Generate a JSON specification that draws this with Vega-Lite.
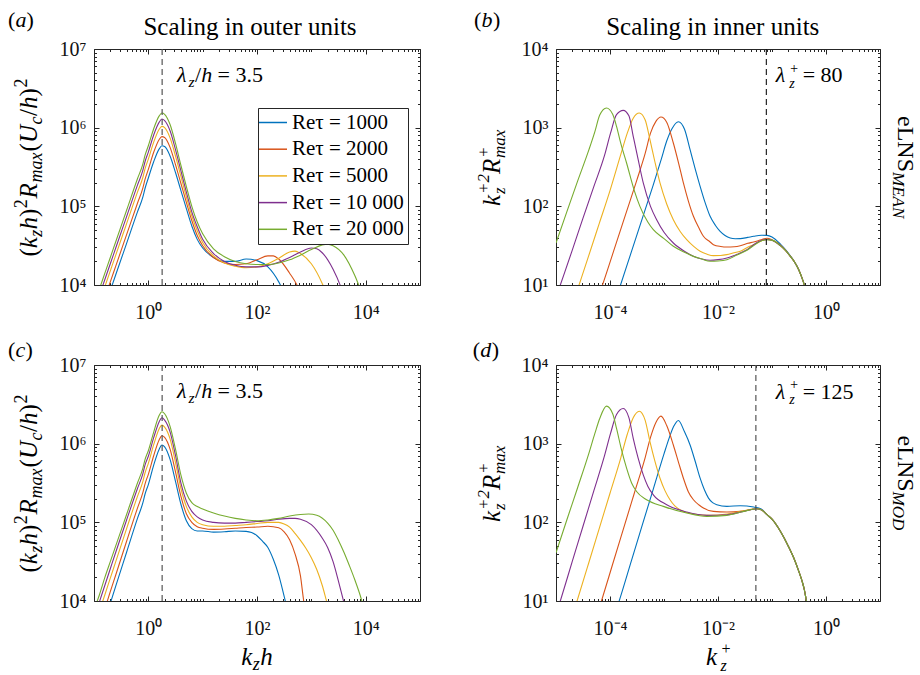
{
"$schema": "https://vega.github.io/schema/vega-lite/v6.json",
"padding": {"left": 7, "top": 8, "right": 2, "bottom": 2},
"background": "white",
"config": {
  "font": "Liberation Serif",
  "view": {"stroke": "#262626", "strokeWidth": 1},
  "axis": {"domain": false, "grid": false, "tickColor": "#262626", "tickWidth": 1, "labelFont": "Liberation Serif", "labelFontSize": 20, "labelColor": "#111111", "labelOverlap": false, "labelFlush": false, "labelBound": false},
  "legend": {"labelFont": "Liberation Serif"},
  "text": {"font": "Liberation Serif", "align": "left", "baseline": "alphabetic", "color": "#000000"}
},
"columns": 2,
"spacing": {"row": 80, "column": 136},
"bounds": "flush",
"resolve": {"scale": {"color": "independent"}},
"datasets": {
"a": [
{"Re":"1000","k":0.1995,"E":8511},{"Re":"1000","k":0.2512,"E":13490},{"Re":"1000","k":0.3981,"E":33880},{"Re":"1000","k":0.631,"E":85110},{"Re":"1000","k":0.7943,"E":131800},{"Re":"1000","k":0.871,"E":169800},{"Re":"1000","k":1,"E":229100},{"Re":"1000","k":1.259,"E":371500},{"Re":"1000","k":1.585,"E":537000},{"Re":"1000","k":1.778,"E":588800},{"Re":"1000","k":1.995,"E":575400},{"Re":"1000","k":2.512,"E":436500},{"Re":"1000","k":3.162,"E":269200},{"Re":"1000","k":3.981,"E":158500},{"Re":"1000","k":5.012,"E":93330},{"Re":"1000","k":6.31,"E":56230},{"Re":"1000","k":7.943,"E":38020},{"Re":"1000","k":10,"E":29510},{"Re":"1000","k":15.85,"E":22390},{"Re":"1000","k":25.12,"E":19950},{"Re":"1000","k":39.81,"E":19950},{"Re":"1000","k":63.1,"E":21380},{"Re":"1000","k":100,"E":20420},{"Re":"1000","k":158.5,"E":16980},{"Re":"1000","k":251.2,"E":10960},{"Re":"1000","k":316.2,"E":7943},
{"Re":"2000","k":0.1585,"E":6918},{"Re":"2000","k":0.1995,"E":10960},{"Re":"2000","k":0.2512,"E":17380},{"Re":"2000","k":0.3981,"E":43650},{"Re":"2000","k":0.631,"E":109600},{"Re":"2000","k":0.7943,"E":171800},{"Re":"2000","k":0.871,"E":221300},{"Re":"2000","k":1,"E":295100},{"Re":"2000","k":1.259,"E":489800},{"Re":"2000","k":1.585,"E":707900},{"Re":"2000","k":1.778,"E":769100},{"Re":"2000","k":1.995,"E":749900},{"Re":"2000","k":2.512,"E":562300},{"Re":"2000","k":3.162,"E":338800},{"Re":"2000","k":3.981,"E":195000},{"Re":"2000","k":5.012,"E":112200},{"Re":"2000","k":6.31,"E":66070},{"Re":"2000","k":7.943,"E":42660},{"Re":"2000","k":10,"E":31620},{"Re":"2000","k":15.85,"E":22390},{"Re":"2000","k":25.12,"E":19050},{"Re":"2000","k":39.81,"E":18200},{"Re":"2000","k":63.1,"E":18620},{"Re":"2000","k":100,"E":20890},{"Re":"2000","k":158.5,"E":23440},{"Re":"2000","k":199.5,"E":23440},{"Re":"2000","k":251.2,"E":21380},{"Re":"2000","k":398.1,"E":14130},{"Re":"2000","k":562.3,"E":9550},{"Re":"2000","k":631,"E":7943},
{"Re":"5000","k":0.1585,"E":9550},{"Re":"5000","k":0.1995,"E":15140},{"Re":"5000","k":0.2512,"E":23990},{"Re":"5000","k":0.3981,"E":60260},{"Re":"5000","k":0.631,"E":151400},{"Re":"5000","k":0.7943,"E":234400},{"Re":"5000","k":0.871,"E":302000},{"Re":"5000","k":1,"E":398100},{"Re":"5000","k":1.259,"E":660700},{"Re":"5000","k":1.585,"E":955000},{"Re":"5000","k":1.778,"E":1040000},{"Re":"5000","k":1.995,"E":1000000},{"Re":"5000","k":2.512,"E":741300},{"Re":"5000","k":3.162,"E":436500},{"Re":"5000","k":3.981,"E":239900},{"Re":"5000","k":5.012,"E":131800},{"Re":"5000","k":6.31,"E":75860},{"Re":"5000","k":7.943,"E":48980},{"Re":"5000","k":10,"E":34670},{"Re":"5000","k":15.85,"E":23440},{"Re":"5000","k":25.12,"E":19050},{"Re":"5000","k":39.81,"E":17380},{"Re":"5000","k":63.1,"E":16600},{"Re":"5000","k":100,"E":16980},{"Re":"5000","k":158.5,"E":18620},{"Re":"5000","k":251.2,"E":21880},{"Re":"5000","k":398.1,"E":26300},{"Re":"5000","k":501.2,"E":26920},{"Re":"5000","k":631,"E":25120},{"Re":"5000","k":1000,"E":18620},{"Re":"5000","k":1585,"E":10470},{"Re":"5000","k":1995,"E":7079},
{"Re":"10000","k":0.1259,"E":7413},{"Re":"10000","k":0.1585,"E":11750},{"Re":"10000","k":0.1995,"E":18620},{"Re":"10000","k":0.2512,"E":29510},{"Re":"10000","k":0.3981,"E":74130},{"Re":"10000","k":0.631,"E":186200},{"Re":"10000","k":0.7943,"E":288400},{"Re":"10000","k":0.871,"E":371500},{"Re":"10000","k":1,"E":489800},{"Re":"10000","k":1.259,"E":812800},{"Re":"10000","k":1.585,"E":1175000},{"Re":"10000","k":1.778,"E":1288000},{"Re":"10000","k":1.995,"E":1230000},{"Re":"10000","k":2.512,"E":912000},{"Re":"10000","k":3.162,"E":524800},{"Re":"10000","k":3.981,"E":281800},{"Re":"10000","k":5.012,"E":151400},{"Re":"10000","k":6.31,"E":85110},{"Re":"10000","k":7.943,"E":54950},{"Re":"10000","k":10,"E":38020},{"Re":"10000","k":15.85,"E":25120},{"Re":"10000","k":25.12,"E":19950},{"Re":"10000","k":39.81,"E":17780},{"Re":"10000","k":63.1,"E":16980},{"Re":"10000","k":100,"E":16980},{"Re":"10000","k":158.5,"E":17780},{"Re":"10000","k":251.2,"E":19500},{"Re":"10000","k":398.1,"E":22390},{"Re":"10000","k":631,"E":26300},{"Re":"10000","k":1000,"E":29510},{"Re":"10000","k":1259,"E":28840},{"Re":"10000","k":1585,"E":25700},{"Re":"10000","k":2512,"E":15850},{"Re":"10000","k":3548,"E":9120},{"Re":"10000","k":3981,"E":7079},
{"Re":"20000","k":0.1259,"E":8913},{"Re":"20000","k":0.1585,"E":14130},{"Re":"20000","k":0.1995,"E":22390},{"Re":"20000","k":0.2512,"E":35480},{"Re":"20000","k":0.3981,"E":89130},{"Re":"20000","k":0.631,"E":223900},{"Re":"20000","k":0.7943,"E":346700},{"Re":"20000","k":0.871,"E":446700},{"Re":"20000","k":1,"E":588800},{"Re":"20000","k":1.259,"E":977200},{"Re":"20000","k":1.585,"E":1413000},{"Re":"20000","k":1.778,"E":1535000},{"Re":"20000","k":1.995,"E":1479000},{"Re":"20000","k":2.512,"E":1096000},{"Re":"20000","k":3.162,"E":631000},{"Re":"20000","k":3.981,"E":331100},{"Re":"20000","k":5.012,"E":177800},{"Re":"20000","k":6.31,"E":100000},{"Re":"20000","k":7.943,"E":63100},{"Re":"20000","k":10,"E":44670},{"Re":"20000","k":15.85,"E":28840},{"Re":"20000","k":25.12,"E":22910},{"Re":"20000","k":39.81,"E":19950},{"Re":"20000","k":63.1,"E":18620},{"Re":"20000","k":100,"E":18200},{"Re":"20000","k":158.5,"E":18200},{"Re":"20000","k":251.2,"E":19050},{"Re":"20000","k":398.1,"E":20890},{"Re":"20000","k":631,"E":23990},{"Re":"20000","k":1000,"E":28180},{"Re":"20000","k":1585,"E":32360},{"Re":"20000","k":1995,"E":33110},{"Re":"20000","k":2512,"E":31620},{"Re":"20000","k":3981,"E":23990},{"Re":"20000","k":6310,"E":13180},{"Re":"20000","k":7943,"E":8913}
],
"b": [
{"Re":"1000","k":0.0001259,"E":6.31},{"Re":"1000","k":0.0001567,"E":10},{"Re":"1000","k":0.0002512,"E":26.92},{"Re":"1000","k":0.0003981,"E":70.79},{"Re":"1000","k":0.000631,"E":186.2},{"Re":"1000","k":0.0008913,"E":398.1},{"Re":"1000","k":0.001122,"E":676.1},{"Re":"1000","k":0.001413,"E":977.2},{"Re":"1000","k":0.001845,"E":1191},{"Re":"1000","k":0.002399,"E":955},{"Re":"1000","k":0.003041,"E":524.8},{"Re":"1000","k":0.003802,"E":295.1},{"Re":"1000","k":0.004667,"E":179.5},{"Re":"1000","k":0.005754,"E":112.2},{"Re":"1000","k":0.007145,"E":74.6},{"Re":"1000","k":0.008913,"E":57.54},{"Re":"1000","k":0.01096,"E":48.08},{"Re":"1000","k":0.01349,"E":42.66},{"Re":"1000","k":0.01682,"E":39.54},{"Re":"1000","k":0.02089,"E":38.64},{"Re":"1000","k":0.02582,"E":38.82},{"Re":"1000","k":0.03548,"E":40.27},{"Re":"1000","k":0.04571,"E":41.59},{"Re":"1000","k":0.0631,"E":42.85},{"Re":"1000","k":0.08072,"E":42.76},{"Re":"1000","k":0.1,"E":40.74},{"Re":"1000","k":0.1429,"E":33.11},{"Re":"1000","k":0.1778,"E":28.18},{"Re":"1000","k":0.2188,"E":23.44},{"Re":"1000","k":0.263,"E":19.5},{"Re":"1000","k":0.3126,"E":15.67},{"Re":"1000","k":0.3548,"E":12.59},{"Re":"1000","k":0.3981,"E":10},{"Re":"1000","k":0.4467,"E":7.586},
{"Re":"2000","k":0.0000631,"E":7.586},{"Re":"2000","k":0.00007261,"E":10},{"Re":"2000","k":0.0001259,"E":31.62},{"Re":"2000","k":0.0001995,"E":83.18},{"Re":"2000","k":0.0003162,"E":218.8},{"Re":"2000","k":0.0004467,"E":467.7},{"Re":"2000","k":0.0005623,"E":851.1},{"Re":"2000","k":0.0007079,"E":1202},{"Re":"2000","k":0.000879,"E":1368},{"Re":"2000","k":0.001122,"E":1175},{"Re":"2000","k":0.001489,"E":638.3},{"Re":"2000","k":0.001862,"E":354.8},{"Re":"2000","k":0.002286,"E":198.2},{"Re":"2000","k":0.002818,"E":117.5},{"Re":"2000","k":0.003508,"E":74.65},{"Re":"2000","k":0.004467,"E":52.48},{"Re":"2000","k":0.00537,"E":41.59},{"Re":"2000","k":0.007079,"E":35.48},{"Re":"2000","k":0.008241,"E":32.58},{"Re":"2000","k":0.01122,"E":30.9},{"Re":"2000","k":0.01459,"E":30.41},{"Re":"2000","k":0.01995,"E":30.69},{"Re":"2000","k":0.02582,"E":31.62},{"Re":"2000","k":0.03548,"E":33.88},{"Re":"2000","k":0.04571,"E":35.24},{"Re":"2000","k":0.0631,"E":37.58},{"Re":"2000","k":0.08072,"E":39.36},{"Re":"2000","k":0.1,"E":37.58},{"Re":"2000","k":0.1429,"E":31.99},{"Re":"2000","k":0.1778,"E":27.54},{"Re":"2000","k":0.2188,"E":23.12},{"Re":"2000","k":0.263,"E":19.5},{"Re":"2000","k":0.3126,"E":15.67},{"Re":"2000","k":0.3548,"E":12.59},{"Re":"2000","k":0.3981,"E":10},{"Re":"2000","k":0.4467,"E":7.586},
{"Re":"5000","k":0.00002239,"E":6.92},{"Re":"5000","k":0.00002673,"E":10},{"Re":"5000","k":0.00003981,"E":22.91},{"Re":"5000","k":0.0000631,"E":60.26},{"Re":"5000","k":0.0001,"E":158.5},{"Re":"5000","k":0.0001585,"E":457.1},{"Re":"5000","k":0.0002089,"E":851.1},{"Re":"5000","k":0.0002692,"E":1318},{"Re":"5000","k":0.0003483,"E":1535},{"Re":"5000","k":0.0004467,"E":1259},{"Re":"5000","k":0.0005495,"E":703.1},{"Re":"5000","k":0.0006761,"E":371.5},{"Re":"5000","k":0.0008433,"E":198.2},{"Re":"5000","k":0.001122,"E":107.2},{"Re":"5000","k":0.001489,"E":67.61},{"Re":"5000","k":0.001995,"E":47.86},{"Re":"5000","k":0.002636,"E":37.67},{"Re":"5000","k":0.003548,"E":30.9},{"Re":"5000","k":0.004667,"E":26.79},{"Re":"5000","k":0.00631,"E":24.55},{"Re":"5000","k":0.008241,"E":23.6},{"Re":"5000","k":0.01122,"E":23.71},{"Re":"5000","k":0.01459,"E":24.32},{"Re":"5000","k":0.01995,"E":25.7},{"Re":"5000","k":0.02582,"E":26.79},{"Re":"5000","k":0.03548,"E":30.2},{"Re":"5000","k":0.04571,"E":32.58},{"Re":"5000","k":0.0631,"E":36.31},{"Re":"5000","k":0.08072,"E":38.02},{"Re":"5000","k":0.1,"E":37.15},{"Re":"5000","k":0.1429,"E":31.62},{"Re":"5000","k":0.1778,"E":27.54},{"Re":"5000","k":0.2188,"E":23.12},{"Re":"5000","k":0.263,"E":19.5},{"Re":"5000","k":0.3126,"E":15.67},{"Re":"5000","k":0.3548,"E":12.59},{"Re":"5000","k":0.3981,"E":10},{"Re":"5000","k":0.4467,"E":7.586},
{"Re":"10000","k":0.00001,"E":6.918},{"Re":"10000","k":0.00001202,"E":10},{"Re":"10000","k":0.00001995,"E":27.54},{"Re":"10000","k":0.00003162,"E":70.79},{"Re":"10000","k":0.00005012,"E":177.8},{"Re":"10000","k":0.00007943,"E":446.7},{"Re":"10000","k":0.0001023,"E":851.1},{"Re":"10000","k":0.0001321,"E":1462},{"Re":"10000","k":0.0001758,"E":1660},{"Re":"10000","k":0.0002239,"E":1413},{"Re":"10000","k":0.0002692,"E":776.2},{"Re":"10000","k":0.0003311,"E":398.1},{"Re":"10000","k":0.000413,"E":198.2},{"Re":"10000","k":0.0005623,"E":100},{"Re":"10000","k":0.0007311,"E":67.61},{"Re":"10000","k":0.001,"E":46.77},{"Re":"10000","k":0.001489,"E":34.2},{"Re":"10000","k":0.002512,"E":26.3},{"Re":"10000","k":0.003508,"E":23.12},{"Re":"10000","k":0.005012,"E":21.38},{"Re":"10000","k":0.007145,"E":20.61},{"Re":"10000","k":0.01,"E":20.99},{"Re":"10000","k":0.01459,"E":22.03},{"Re":"10000","k":0.02239,"E":24.55},{"Re":"10000","k":0.03436,"E":28.12},{"Re":"10000","k":0.05012,"E":33.88},{"Re":"10000","k":0.0631,"E":36.73},{"Re":"10000","k":0.08072,"E":38.02},{"Re":"10000","k":0.1,"E":37.15},{"Re":"10000","k":0.1429,"E":31.62},{"Re":"10000","k":0.1778,"E":27.54},{"Re":"10000","k":0.2188,"E":23.12},{"Re":"10000","k":0.263,"E":19.5},{"Re":"10000","k":0.3126,"E":15.67},{"Re":"10000","k":0.3548,"E":12.59},{"Re":"10000","k":0.3981,"E":10},{"Re":"10000","k":0.4467,"E":7.586},
{"Re":"20000","k":0.00001,"E":34.2},{"Re":"20000","k":0.00001585,"E":85.11},{"Re":"20000","k":0.00002512,"E":208.9},{"Re":"20000","k":0.00004074,"E":524.8},{"Re":"20000","k":0.00005248,"E":891.3},{"Re":"20000","k":0.00006457,"E":1445},{"Re":"20000","k":0.0000861,"E":1778},{"Re":"20000","k":0.0001122,"E":1479},{"Re":"20000","k":0.0001321,"E":1040},{"Re":"20000","k":0.0001585,"E":631},{"Re":"20000","k":0.0002028,"E":355.6},{"Re":"20000","k":0.0002818,"E":158.5},{"Re":"20000","k":0.0003581,"E":100},{"Re":"20000","k":0.0005012,"E":63.1},{"Re":"20000","k":0.0006339,"E":50.47},{"Re":"20000","k":0.001,"E":38.9},{"Re":"20000","k":0.001489,"E":31.05},{"Re":"20000","k":0.002512,"E":25.7},{"Re":"20000","k":0.003508,"E":23.12},{"Re":"20000","k":0.005012,"E":21.38},{"Re":"20000","k":0.007145,"E":20},{"Re":"20000","k":0.01,"E":20.18},{"Re":"20000","k":0.01459,"E":20.99},{"Re":"20000","k":0.02239,"E":23.99},{"Re":"20000","k":0.03436,"E":27.61},{"Re":"20000","k":0.05012,"E":33.11},{"Re":"20000","k":0.0631,"E":36.31},{"Re":"20000","k":0.08072,"E":37.67},{"Re":"20000","k":0.1,"E":37.15},{"Re":"20000","k":0.1429,"E":31.62},{"Re":"20000","k":0.1778,"E":27.54},{"Re":"20000","k":0.2188,"E":23.12},{"Re":"20000","k":0.263,"E":19.5},{"Re":"20000","k":0.3126,"E":15.67},{"Re":"20000","k":0.3548,"E":12.59},{"Re":"20000","k":0.3981,"E":10},{"Re":"20000","k":0.4467,"E":7.586}
],
"c": [
{"Re":"1000","k":0.1995,"E":9333},{"Re":"1000","k":0.2512,"E":15490},{"Re":"1000","k":0.3981,"E":41690},{"Re":"1000","k":0.631,"E":112200},{"Re":"1000","k":0.7943,"E":177800},{"Re":"1000","k":0.871,"E":229100},{"Re":"1000","k":1,"E":302000},{"Re":"1000","k":1.259,"E":537000},{"Re":"1000","k":1.585,"E":851100},{"Re":"1000","k":1.778,"E":961600},{"Re":"1000","k":1.995,"E":912000},{"Re":"1000","k":2.512,"E":631000},{"Re":"1000","k":3.162,"E":331100},{"Re":"1000","k":3.981,"E":169800},{"Re":"1000","k":5.012,"E":104700},{"Re":"1000","k":6.31,"E":83180},{"Re":"1000","k":7.943,"E":77620},{"Re":"1000","k":10,"E":77620},{"Re":"1000","k":15.85,"E":74990},{"Re":"1000","k":25.12,"E":75860},{"Re":"1000","k":39.81,"E":77620},{"Re":"1000","k":63.1,"E":76740},{"Re":"1000","k":79.43,"E":74130},{"Re":"1000","k":100,"E":67610},{"Re":"1000","k":125.9,"E":57540},{"Re":"1000","k":158.5,"E":47860},{"Re":"1000","k":199.5,"E":33880},{"Re":"1000","k":251.2,"E":21380},{"Re":"1000","k":316.2,"E":11480},{"Re":"1000","k":354.8,"E":8318},
{"Re":"2000","k":0.1585,"E":7943},{"Re":"2000","k":0.1995,"E":13180},{"Re":"2000","k":0.2512,"E":21380},{"Re":"2000","k":0.3981,"E":57540},{"Re":"2000","k":0.631,"E":151400},{"Re":"2000","k":0.7943,"E":239900},{"Re":"2000","k":0.871,"E":309000},{"Re":"2000","k":1,"E":407400},{"Re":"2000","k":1.259,"E":707900},{"Re":"2000","k":1.585,"E":1122000},{"Re":"2000","k":1.778,"E":1262000},{"Re":"2000","k":1.995,"E":1202000},{"Re":"2000","k":2.512,"E":851100},{"Re":"2000","k":3.162,"E":436500},{"Re":"2000","k":3.981,"E":213800},{"Re":"2000","k":5.012,"E":128800},{"Re":"2000","k":6.31,"E":100000},{"Re":"2000","k":7.943,"E":88100},{"Re":"2000","k":10,"E":84140},{"Re":"2000","k":15.85,"E":81280},{"Re":"2000","k":25.12,"E":82220},{"Re":"2000","k":39.81,"E":84140},{"Re":"2000","k":63.1,"E":86100},{"Re":"2000","k":100,"E":87100},{"Re":"2000","k":158.5,"E":89130},{"Re":"2000","k":251.2,"E":85110},{"Re":"2000","k":316.2,"E":75860},{"Re":"2000","k":398.1,"E":60260},{"Re":"2000","k":501.2,"E":39810},{"Re":"2000","k":631,"E":20890},{"Re":"2000","k":724.4,"E":10000},{"Re":"2000","k":794.3,"E":7079},
{"Re":"5000","k":0.1259,"E":7413},{"Re":"5000","k":0.1585,"E":12020},{"Re":"5000","k":0.1995,"E":19500},{"Re":"5000","k":0.2512,"E":31620},{"Re":"5000","k":0.3981,"E":83180},{"Re":"5000","k":0.631,"E":213800},{"Re":"5000","k":0.7943,"E":331100},{"Re":"5000","k":0.871,"E":426600},{"Re":"5000","k":1,"E":562300},{"Re":"5000","k":1.259,"E":977200},{"Re":"5000","k":1.585,"E":1549000},{"Re":"5000","k":1.778,"E":1722000},{"Re":"5000","k":1.995,"E":1622000},{"Re":"5000","k":2.512,"E":1148000},{"Re":"5000","k":3.162,"E":575400},{"Re":"5000","k":3.981,"E":269200},{"Re":"5000","k":5.012,"E":158500},{"Re":"5000","k":6.31,"E":117500},{"Re":"5000","k":7.943,"E":100000},{"Re":"5000","k":10,"E":93330},{"Re":"5000","k":15.85,"E":89130},{"Re":"5000","k":25.12,"E":89130},{"Re":"5000","k":39.81,"E":91200},{"Re":"5000","k":63.1,"E":93330},{"Re":"5000","k":100,"E":96600},{"Re":"5000","k":158.5,"E":100000},{"Re":"5000","k":251.2,"E":100000},{"Re":"5000","k":316.2,"E":95500},{"Re":"5000","k":398.1,"E":87100},{"Re":"5000","k":501.2,"E":72440},{"Re":"5000","k":631,"E":58880},{"Re":"5000","k":794.3,"E":46770},{"Re":"5000","k":1000,"E":35480},{"Re":"5000","k":1259,"E":25120},{"Re":"5000","k":1585,"E":15850},{"Re":"5000","k":1905,"E":10000},{"Re":"5000","k":2089,"E":7943},
{"Re":"10000","k":0.1259,"E":9772},{"Re":"10000","k":0.1585,"E":15850},{"Re":"10000","k":0.1995,"E":25700},{"Re":"10000","k":0.2512,"E":41690},{"Re":"10000","k":0.3981,"E":107200},{"Re":"10000","k":0.631,"E":269200},{"Re":"10000","k":0.7943,"E":416900},{"Re":"10000","k":0.871,"E":537000},{"Re":"10000","k":1,"E":691800},{"Re":"10000","k":1.259,"E":1202000},{"Re":"10000","k":1.585,"E":1905000},{"Re":"10000","k":1.778,"E":2133000},{"Re":"10000","k":1.995,"E":1995000},{"Re":"10000","k":2.512,"E":1413000},{"Re":"10000","k":3.162,"E":707900},{"Re":"10000","k":3.981,"E":316200},{"Re":"10000","k":5.012,"E":186200},{"Re":"10000","k":6.31,"E":138000},{"Re":"10000","k":7.943,"E":117500},{"Re":"10000","k":10,"E":107200},{"Re":"10000","k":15.85,"E":100000},{"Re":"10000","k":25.12,"E":97720},{"Re":"10000","k":39.81,"E":97720},{"Re":"10000","k":63.1,"E":100000},{"Re":"10000","k":100,"E":102300},{"Re":"10000","k":158.5,"E":104700},{"Re":"10000","k":251.2,"E":109600},{"Re":"10000","k":398.1,"E":112200},{"Re":"10000","k":501.2,"E":112200},{"Re":"10000","k":631,"E":109600},{"Re":"10000","k":1000,"E":93330},{"Re":"10000","k":1585,"E":63100},{"Re":"10000","k":1995,"E":47860},{"Re":"10000","k":2512,"E":31620},{"Re":"10000","k":3162,"E":17780},{"Re":"10000","k":3981,"E":9550},{"Re":"10000","k":4467,"E":7079},
{"Re":"20000","k":0.1122,"E":9550},{"Re":"20000","k":0.1259,"E":12020},{"Re":"20000","k":0.1585,"E":19950},{"Re":"20000","k":0.1995,"E":31620},{"Re":"20000","k":0.2512,"E":50120},{"Re":"20000","k":0.3981,"E":125900},{"Re":"20000","k":0.631,"E":316200},{"Re":"20000","k":0.7943,"E":489800},{"Re":"20000","k":0.871,"E":631000},{"Re":"20000","k":1,"E":812800},{"Re":"20000","k":1.259,"E":1413000},{"Re":"20000","k":1.585,"E":2291000},{"Re":"20000","k":1.778,"E":2541000},{"Re":"20000","k":1.995,"E":2399000},{"Re":"20000","k":2.512,"E":1660000},{"Re":"20000","k":3.162,"E":851100},{"Re":"20000","k":3.981,"E":398100},{"Re":"20000","k":5.012,"E":234400},{"Re":"20000","k":6.31,"E":177800},{"Re":"20000","k":7.943,"E":158500},{"Re":"20000","k":10,"E":147900},{"Re":"20000","k":15.85,"E":131800},{"Re":"20000","k":25.12,"E":120200},{"Re":"20000","k":39.81,"E":112200},{"Re":"20000","k":63.1,"E":107200},{"Re":"20000","k":100,"E":104700},{"Re":"20000","k":158.5,"E":107200},{"Re":"20000","k":251.2,"E":112200},{"Re":"20000","k":398.1,"E":120200},{"Re":"20000","k":631,"E":125900},{"Re":"20000","k":891.3,"E":127400},{"Re":"20000","k":1259,"E":123000},{"Re":"20000","k":1995,"E":97720},{"Re":"20000","k":2512,"E":79430},{"Re":"20000","k":3162,"E":58880},{"Re":"20000","k":3981,"E":41690},{"Re":"20000","k":5012,"E":28180},{"Re":"20000","k":6310,"E":18620},{"Re":"20000","k":7943,"E":11750},{"Re":"20000","k":8913,"E":8913}
],
"d": [
{"Re":"1000","k":0.0001259,"E":7.079},{"Re":"1000","k":0.0001479,"E":10},{"Re":"1000","k":0.0002512,"E":33.11},{"Re":"1000","k":0.0003981,"E":93.33},{"Re":"1000","k":0.000631,"E":263},{"Re":"1000","k":0.001,"E":741.3},{"Re":"1000","k":0.001259,"E":1202},{"Re":"1000","k":0.001514,"E":1660},{"Re":"1000","k":0.001845,"E":1972},{"Re":"1000","k":0.002399,"E":1413},{"Re":"1000","k":0.003041,"E":961.6},{"Re":"1000","k":0.003802,"E":588.8},{"Re":"1000","k":0.004667,"E":363.9},{"Re":"1000","k":0.005623,"E":257},{"Re":"1000","k":0.006668,"E":203.2},{"Re":"1000","k":0.007943,"E":177.8},{"Re":"1000","k":0.009506,"E":167.5},{"Re":"1000","k":0.01459,"E":159.6},{"Re":"1000","k":0.02582,"E":162.6},{"Re":"1000","k":0.04571,"E":156.3},{"Re":"1000","k":0.0631,"E":147.9},{"Re":"1000","k":0.08072,"E":125},{"Re":"1000","k":0.1,"E":109.6},{"Re":"1000","k":0.1429,"E":76.91},{"Re":"1000","k":0.1995,"E":50.12},{"Re":"1000","k":0.2523,"E":35.4},{"Re":"1000","k":0.3162,"E":23.44},{"Re":"1000","k":0.3606,"E":17.91},{"Re":"1000","k":0.3981,"E":13.8},{"Re":"1000","k":0.4345,"E":10},{"Re":"1000","k":0.4677,"E":7.943},
{"Re":"2000","k":0.00005623,"E":6.31},{"Re":"2000","k":0.0000695,"E":10},{"Re":"2000","k":0.0001122,"E":29.51},{"Re":"2000","k":0.0001778,"E":83.18},{"Re":"2000","k":0.0002818,"E":234.4},{"Re":"2000","k":0.0004467,"E":660.7},{"Re":"2000","k":0.0005623,"E":1202},{"Re":"2000","k":0.0007079,"E":1862},{"Re":"2000","k":0.000879,"E":2239},{"Re":"2000","k":0.001122,"E":1698},{"Re":"2000","k":0.001489,"E":961.6},{"Re":"2000","k":0.001862,"E":575.4},{"Re":"2000","k":0.002286,"E":363.9},{"Re":"2000","k":0.002818,"E":245.5},{"Re":"2000","k":0.003508,"E":193.6},{"Re":"2000","k":0.004467,"E":166},{"Re":"2000","k":0.00537,"E":151.7},{"Re":"2000","k":0.008241,"E":137.7},{"Re":"2000","k":0.01459,"E":135.2},{"Re":"2000","k":0.02582,"E":137.7},{"Re":"2000","k":0.03981,"E":144.5},{"Re":"2000","k":0.05117,"E":148.9},{"Re":"2000","k":0.0631,"E":144.5},{"Re":"2000","k":0.08072,"E":125},{"Re":"2000","k":0.1,"E":109.6},{"Re":"2000","k":0.1429,"E":76.91},{"Re":"2000","k":0.1995,"E":50.12},{"Re":"2000","k":0.2523,"E":35.4},{"Re":"2000","k":0.3162,"E":23.44},{"Re":"2000","k":0.3606,"E":17.91},{"Re":"2000","k":0.3981,"E":13.8},{"Re":"2000","k":0.4345,"E":10},{"Re":"2000","k":0.4677,"E":7.943},
{"Re":"5000","k":0.00001995,"E":6.31},{"Re":"5000","k":0.00002455,"E":10},{"Re":"5000","k":0.00003981,"E":29.51},{"Re":"5000","k":0.0000631,"E":83.18},{"Re":"5000","k":0.0001,"E":234.4},{"Re":"5000","k":0.0001585,"E":660.7},{"Re":"5000","k":0.0002089,"E":1318},{"Re":"5000","k":0.0002692,"E":2138},{"Re":"5000","k":0.0003483,"E":2588},{"Re":"5000","k":0.0004467,"E":1995},{"Re":"5000","k":0.0005495,"E":1059},{"Re":"5000","k":0.0006761,"E":602.6},{"Re":"5000","k":0.0008433,"E":363.9},{"Re":"5000","k":0.001047,"E":251.2},{"Re":"5000","k":0.001291,"E":193.6},{"Re":"5000","k":0.001585,"E":162.2},{"Re":"5000","k":0.001982,"E":144.5},{"Re":"5000","k":0.003508,"E":127.4},{"Re":"5000","k":0.007145,"E":122.7},{"Re":"5000","k":0.01459,"E":127.4},{"Re":"5000","k":0.02979,"E":140.6},{"Re":"5000","k":0.05117,"E":148.9},{"Re":"5000","k":0.0631,"E":144.5},{"Re":"5000","k":0.08072,"E":125},{"Re":"5000","k":0.1,"E":109.6},{"Re":"5000","k":0.1429,"E":76.91},{"Re":"5000","k":0.1995,"E":50.12},{"Re":"5000","k":0.2523,"E":35.4},{"Re":"5000","k":0.3162,"E":23.44},{"Re":"5000","k":0.3606,"E":17.91},{"Re":"5000","k":0.3981,"E":13.8},{"Re":"5000","k":0.4345,"E":10},{"Re":"5000","k":0.4677,"E":7.943},
{"Re":"10000","k":0.00001,"E":6.67},{"Re":"10000","k":0.00001202,"E":10},{"Re":"10000","k":0.00001995,"E":31.62},{"Re":"10000","k":0.00003162,"E":89.13},{"Re":"10000","k":0.00005012,"E":251.2},{"Re":"10000","k":0.00007943,"E":707.9},{"Re":"10000","k":0.0001023,"E":1349},{"Re":"10000","k":0.0001321,"E":2344},{"Re":"10000","k":0.0001758,"E":2799},{"Re":"10000","k":0.0002239,"E":2138},{"Re":"10000","k":0.0002692,"E":1169},{"Re":"10000","k":0.0003311,"E":660.7},{"Re":"10000","k":0.000413,"E":400.9},{"Re":"10000","k":0.0005012,"E":288.4},{"Re":"10000","k":0.0006339,"E":223.9},{"Re":"10000","k":0.001122,"E":167.5},{"Re":"10000","k":0.002636,"E":135.2},{"Re":"10000","k":0.006209,"E":122.7},{"Re":"10000","k":0.01459,"E":125},{"Re":"10000","k":0.02979,"E":137.7},{"Re":"10000","k":0.05117,"E":148.9},{"Re":"10000","k":0.0631,"E":144.5},{"Re":"10000","k":0.08072,"E":125},{"Re":"10000","k":0.1,"E":109.6},{"Re":"10000","k":0.1429,"E":76.91},{"Re":"10000","k":0.1995,"E":50.12},{"Re":"10000","k":0.2523,"E":35.4},{"Re":"10000","k":0.3162,"E":23.44},{"Re":"10000","k":0.3606,"E":17.91},{"Re":"10000","k":0.3981,"E":13.8},{"Re":"10000","k":0.4345,"E":10},{"Re":"10000","k":0.4677,"E":7.943},
{"Re":"20000","k":0.00001,"E":40.93},{"Re":"20000","k":0.00001585,"E":107.2},{"Re":"20000","k":0.00002512,"E":275.4},{"Re":"20000","k":0.00004074,"E":758.6},{"Re":"20000","k":0.00005248,"E":1349},{"Re":"20000","k":0.00006457,"E":2089},{"Re":"20000","k":0.0000861,"E":2999},{"Re":"20000","k":0.0001122,"E":2399},{"Re":"20000","k":0.0001321,"E":1563},{"Re":"20000","k":0.0001622,"E":851.1},{"Re":"20000","k":0.0002028,"E":487.5},{"Re":"20000","k":0.0002512,"E":316.2},{"Re":"20000","k":0.0003105,"E":246.6},{"Re":"20000","k":0.0004764,"E":193.6},{"Re":"20000","k":0.0009727,"E":159.6},{"Re":"20000","k":0.002636,"E":131.2},{"Re":"20000","k":0.006209,"E":119.1},{"Re":"20000","k":0.01459,"E":122.7},{"Re":"20000","k":0.02979,"E":137.7},{"Re":"20000","k":0.05117,"E":148.9},{"Re":"20000","k":0.0631,"E":144.5},{"Re":"20000","k":0.08072,"E":125},{"Re":"20000","k":0.1,"E":109.6},{"Re":"20000","k":0.1429,"E":76.91},{"Re":"20000","k":0.1995,"E":50.12},{"Re":"20000","k":0.2523,"E":35.4},{"Re":"20000","k":0.3162,"E":23.44},{"Re":"20000","k":0.3606,"E":17.91},{"Re":"20000","k":0.3981,"E":13.8},{"Re":"20000","k":0.4345,"E":10},{"Re":"20000","k":0.4677,"E":7.943}
]
},
"concat": [
{
 "width": 326, "height": 236,
 "resolve": {"axis": {"x": "independent", "y": "independent"}},
 "layer": [
  {"data": {"name": "a"},
   "mark": {"type": "line", "clip": true, "strokeWidth": 1.1, "interpolate": "monotone"},
   "encoding": {
    "x": {"field": "k", "type": "quantitative", "scale": {"type": "log", "domain": [0.1, 100000], "nice": false},
      "axis": {"orient": "bottom", "title": null, "labelFont": "Liberation Serif", "values": [0.1,0.2,0.3,0.4,0.5,0.6,0.7,0.8,0.9,1,2,3,4,5,6,7,8,9,10,20,30,40,50,60,70,80,90,100,200,300,400,500,600,700,800,900,1000,2000,3000,4000,5000,6000,7000,8000,9000,10000,20000,30000,40000,50000,60000,70000,80000,90000,100000],
       "labelExpr": "datum.value == 1 ? '10⁰' : datum.value == 100 ? '10²' : datum.value == 10000 ? '10⁴' : ''",
       "tickSize": {"condition": {"test": "datum.value == 1 || datum.value == 100 || datum.value == 10000", "value": -5}, "value": -2.5},
       "labelPadding": 38, "labelBaseline": "alphabetic"}},
    "y": {"field": "E", "type": "quantitative", "scale": {"type": "log", "domain": [10000, 10000000], "nice": false},
      "axis": {"orient": "left", "title": null, "labelFont": "Liberation Serif", "values": [10000,20000,30000,40000,50000,60000,70000,80000,90000,100000,200000,300000,400000,500000,600000,700000,800000,900000,1000000,2000000,3000000,4000000,5000000,6000000,7000000,8000000,9000000,10000000],
       "labelExpr": "datum.value == 10000 ? '10⁴' : datum.value == 100000 ? '10⁵' : datum.value == 1000000 ? '10⁶' : datum.value == 10000000 ? '10⁷' : ''",
       "tickSize": {"condition": {"test": "datum.value == 10000 || datum.value == 100000 || datum.value == 1000000 || datum.value == 10000000", "value": -5}, "value": -2.5},
       "labelPadding": 13, "labelBaseline": "middle"}},
    "color": {"field": "Re", "type": "nominal", "scale": {"domain": ["1000","2000","5000","10000","20000"], "range": ["#0072BD","#D95319","#EDB120","#7E2F8E","#77AC30"]},
      "legend": {"orient": "none", "legendX": 164, "legendY": 59, "title": null, "symbolType": "M-2,0H2", "symbolSize": 196, "symbolStrokeWidth": 1.5, "symbolOffset": 0.5, "symbolFillColor": "transparent", "labelOffset": 8.5, "rowPadding": 4.7, "padding": 4, "strokeColor": "#262626", "fillColor": "#ffffff", "labelFont": "Liberation Serif", "labelFontSize": 21, "labelColor": "#000000", "labelLimit": 300,
       "labelExpr": "'Reτ = ' + (datum.label == '10000' ? '10 000' : datum.label == '20000' ? '20 000' : datum.label)"}}
   }},
  {"data": {"values": [{}]},
   "mark": {"type": "rule", "strokeDash": [6, 4], "color": "#555555", "strokeWidth": 1.2},
   "encoding": {
    "x": {"datum": 1.7952, "type": "quantitative", "scale": {"type": "log", "domain": [0.1, 100000], "nice": false},
      "axis": {"orient": "top", "title": null, "labels": false, "values": [0.1,0.2,0.3,0.4,0.5,0.6,0.7,0.8,0.9,1,2,3,4,5,6,7,8,9,10,20,30,40,50,60,70,80,90,100,200,300,400,500,600,700,800,900,1000,2000,3000,4000,5000,6000,7000,8000,9000,10000,20000,30000,40000,50000,60000,70000,80000,90000,100000],
       "tickSize": {"condition": {"test": "datum.value == 1 || datum.value == 100 || datum.value == 10000", "value": -5}, "value": -2.5}}},
    "y": {"datum": 10000, "type": "quantitative", "scale": {"type": "log", "domain": [10000, 10000000], "nice": false},
      "axis": {"orient": "right", "title": null, "labels": false, "values": [10000,20000,30000,40000,50000,60000,70000,80000,90000,100000,200000,300000,400000,500000,600000,700000,800000,900000,1000000,2000000,3000000,4000000,5000000,6000000,7000000,8000000,9000000,10000000],
       "tickSize": {"condition": {"test": "datum.value == 10000 || datum.value == 100000 || datum.value == 1000000 || datum.value == 10000000", "value": -5}, "value": -2.5}}},
    "y2": {"datum": 10000000}
   }},
  {"data": {"values": [{}]},
   "encoding": {"x": {"datum": 0.002612, "type": "quantitative", "scale": {"type": "log", "domain": [0.1, 100000], "nice": false}, "axis": null},
                "y": {"datum": 19050000, "type": "quantitative", "scale": {"type": "log", "domain": [10000, 10000000], "nice": false}, "axis": null}},
   "layer": [
    {"mark": {"type": "text", "text": "(", "fontSize": 22}},
    {"mark": {"type": "text", "text": "a", "fontSize": 22, "fontStyle": "italic", "dx": 7.5}},
    {"mark": {"type": "text", "text": ")", "fontSize": 22, "dx": 18.5}}
   ]},
  {"data": {"values": [{}]},
   "encoding": {"x": {"datum": 74.3, "type": "quantitative", "scale": {"type": "log", "domain": [0.1, 100000], "nice": false}, "axis": null},
                "y": {"datum": 15070000, "type": "quantitative", "scale": {"type": "log", "domain": [10000, 10000000], "nice": false}, "axis": null}},
   "mark": {"type": "text", "text": "Scaling in outer units", "fontSize": 25, "align": "center"}},
  {"data": {"values": [{}]},
   "encoding": {"x": {"datum": 3.378, "type": "quantitative", "scale": {"type": "log", "domain": [0.1, 100000], "nice": false}, "axis": null},
                "y": {"datum": 3810000, "type": "quantitative", "scale": {"type": "log", "domain": [10000, 10000000], "nice": false}, "axis": null}},
   "layer": [
    {"mark": {"type": "text", "text": "λ", "fontSize": 22, "fontStyle": "italic"}},
    {"mark": {"type": "text", "text": "z", "fontSize": 15.5, "fontStyle": "italic", "dx": 11.5, "dy": 5}},
    {"mark": {"type": "text", "text": "/", "fontSize": 22, "dx": 18}},
    {"mark": {"type": "text", "text": "h", "fontSize": 22, "fontStyle": "italic", "dx": 24.2}},
    {"mark": {"type": "text", "text": "= 3.5", "fontSize": 22, "dx": 40.5}}
   ]},
  {"data": {"values": [{}]},
   "encoding": {"x": {"datum": 0.00892, "type": "quantitative", "scale": {"type": "log", "domain": [0.1, 100000], "nice": false}, "axis": null},
                "y": {"datum": 316228, "type": "quantitative", "scale": {"type": "log", "domain": [10000, 10000000], "nice": false}, "axis": null}},
   "layer": [
    {"mark": {"type": "text", "text": "(", "fontSize": 25, "angle": 270, "dx": -89.5}},
    {"mark": {"type": "text", "text": "k", "fontSize": 25, "fontStyle": "italic", "angle": 270, "dx": -81.2}},
    {"mark": {"type": "text", "text": "z", "fontSize": 18, "fontStyle": "italic", "angle": 270, "dx": -69.8, "dy": 5}},
    {"mark": {"type": "text", "text": "h", "fontSize": 25, "fontStyle": "italic", "angle": 270, "dx": -62.5}},
    {"mark": {"type": "text", "text": ")", "fontSize": 25, "angle": 270, "dx": -50}},
    {"mark": {"type": "text", "text": "2", "fontSize": 18, "angle": 270, "dx": -41.2, "dy": -10}},
    {"mark": {"type": "text", "text": "R", "fontSize": 25, "fontStyle": "italic", "angle": 270, "dx": -31.5}},
    {"mark": {"type": "text", "text": "max", "fontSize": 18, "fontStyle": "italic", "angle": 270, "dx": -15.5, "dy": 5}},
    {"mark": {"type": "text", "text": "(", "fontSize": 25, "angle": 270, "dx": 15.5}},
    {"mark": {"type": "text", "text": "U", "fontSize": 25, "fontStyle": "italic", "angle": 270, "dx": 24}},
    {"mark": {"type": "text", "text": "c", "fontSize": 18, "fontStyle": "italic", "angle": 270, "dx": 42.5, "dy": 5}},
    {"mark": {"type": "text", "text": "/", "fontSize": 25, "angle": 270, "dx": 51}},
    {"mark": {"type": "text", "text": "h", "fontSize": 25, "fontStyle": "italic", "angle": 270, "dx": 58}},
    {"mark": {"type": "text", "text": ")", "fontSize": 25, "angle": 270, "dx": 70.5}},
    {"mark": {"type": "text", "text": "2", "fontSize": 18, "angle": 270, "dx": 79.5, "dy": -10}}
   ]}
 ]
},
{
 "width": 324, "height": 236,
 "resolve": {"axis": {"x": "independent", "y": "independent"}},
 "layer": [
  {"data": {"name": "b"},
   "mark": {"type": "line", "clip": true, "strokeWidth": 1.1, "interpolate": "monotone"},
   "encoding": {
    "x": {"field": "k", "type": "quantitative", "scale": {"type": "log", "domain": [0.00001, 10], "nice": false},
      "axis": {"orient": "bottom", "title": null, "labelFont": "Liberation Serif", "values": [0.00001,0.00002,0.00003,0.00004,0.00005,0.00006,0.00007,0.00008,0.00009,0.0001,0.0002,0.0003,0.0004,0.0005,0.0006,0.0007,0.0008,0.0009,0.001,0.002,0.003,0.004,0.005,0.006,0.007,0.008,0.009,0.01,0.02,0.03,0.04,0.05,0.06,0.07,0.08,0.09,0.1,0.2,0.3,0.4,0.5,0.6,0.7,0.8,0.9,1,2,3,4,5,6,7,8,9,10],
       "labelExpr": "datum.value == 0.0001 ? '10⁻⁴' : datum.value == 0.01 ? '10⁻²' : datum.value == 1 ? '10⁰' : ''",
       "tickSize": {"condition": {"test": "datum.value == 0.0001 || datum.value == 0.01 || datum.value == 1", "value": -5}, "value": -2.5},
       "labelPadding": 38, "labelBaseline": "alphabetic"}},
    "y": {"field": "E", "type": "quantitative", "scale": {"type": "log", "domain": [10, 10000], "nice": false},
      "axis": {"orient": "left", "title": null, "labelFont": "Liberation Serif", "values": [10,20,30,40,50,60,70,80,90,100,200,300,400,500,600,700,800,900,1000,2000,3000,4000,5000,6000,7000,8000,9000,10000],
       "labelExpr": "datum.value == 10 ? '10¹' : datum.value == 100 ? '10²' : datum.value == 1000 ? '10³' : datum.value == 10000 ? '10⁴' : ''",
       "tickSize": {"condition": {"test": "datum.value == 10 || datum.value == 100 || datum.value == 1000 || datum.value == 10000", "value": -5}, "value": -2.5},
       "labelPadding": 13, "labelBaseline": "middle"}},
    "color": {"field": "Re", "type": "nominal", "scale": {"domain": ["1000","2000","5000","10000","20000"], "range": ["#0072BD","#D95319","#EDB120","#7E2F8E","#77AC30"]}, "legend": null}
   }},
  {"data": {"values": [{}]},
   "mark": {"type": "rule", "strokeDash": [6, 4], "color": "#111111", "strokeWidth": 1.1},
   "encoding": {
    "x": {"datum": 0.07854, "type": "quantitative", "scale": {"type": "log", "domain": [0.00001, 10], "nice": false},
      "axis": {"orient": "top", "title": null, "labels": false, "values": [0.00001,0.00002,0.00003,0.00004,0.00005,0.00006,0.00007,0.00008,0.00009,0.0001,0.0002,0.0003,0.0004,0.0005,0.0006,0.0007,0.0008,0.0009,0.001,0.002,0.003,0.004,0.005,0.006,0.007,0.008,0.009,0.01,0.02,0.03,0.04,0.05,0.06,0.07,0.08,0.09,0.1,0.2,0.3,0.4,0.5,0.6,0.7,0.8,0.9,1,2,3,4,5,6,7,8,9,10],
       "tickSize": {"condition": {"test": "datum.value == 0.0001 || datum.value == 0.01 || datum.value == 1", "value": -5}, "value": -2.5}}},
    "y": {"datum": 10, "type": "quantitative", "scale": {"type": "log", "domain": [10, 10000], "nice": false},
      "axis": {"orient": "right", "title": null, "labels": false, "values": [10,20,30,40,50,60,70,80,90,100,200,300,400,500,600,700,800,900,1000,2000,3000,4000,5000,6000,7000,8000,9000,10000],
       "tickSize": {"condition": {"test": "datum.value == 10 || datum.value == 100 || datum.value == 1000 || datum.value == 10000", "value": -5}, "value": -2.5}}},
    "y2": {"datum": 10000}
   }},
  {"data": {"values": [{}]},
   "encoding": {"x": {"datum": 3.03e-7, "type": "quantitative", "scale": {"type": "log", "domain": [0.00001, 10], "nice": false}, "axis": null},
                "y": {"datum": 19050, "type": "quantitative", "scale": {"type": "log", "domain": [10, 10000], "nice": false}, "axis": null}},
   "layer": [
    {"mark": {"type": "text", "text": "(", "fontSize": 22}},
    {"mark": {"type": "text", "text": "b", "fontSize": 22, "fontStyle": "italic", "dx": 7.5}},
    {"mark": {"type": "text", "text": ")", "fontSize": 22, "dx": 19}}
   ]},
  {"data": {"values": [{}]},
   "encoding": {"x": {"datum": 0.00798, "type": "quantitative", "scale": {"type": "log", "domain": [0.00001, 10], "nice": false}, "axis": null},
                "y": {"datum": 15070, "type": "quantitative", "scale": {"type": "log", "domain": [10, 10000], "nice": false}, "axis": null}},
   "mark": {"type": "text", "text": "Scaling in inner units", "fontSize": 25, "align": "center"}},
  {"data": {"values": [{}]},
   "encoding": {"x": {"datum": 0.1171, "type": "quantitative", "scale": {"type": "log", "domain": [0.00001, 10], "nice": false}, "axis": null},
                "y": {"datum": 3806, "type": "quantitative", "scale": {"type": "log", "domain": [10, 10000], "nice": false}, "axis": null}},
   "layer": [
    {"mark": {"type": "text", "text": "λ", "fontSize": 22, "fontStyle": "italic"}},
    {"mark": {"type": "text", "text": ["+", "z"], "lineHeight": 15, "fontSize": 14, "fontStyle": "italic", "dx": 13.5, "dy": -9.5}},
    {"mark": {"type": "text", "text": "= 80", "fontSize": 22, "dx": 27}}
   ]},
  {"data": {"values": [{}]},
   "encoding": {"x": {"datum": 9.18e-7, "type": "quantitative", "scale": {"type": "log", "domain": [0.00001, 10], "nice": false}, "axis": null},
                "y": {"datum": 316.2, "type": "quantitative", "scale": {"type": "log", "domain": [10, 10000], "nice": false}, "axis": null}},
   "layer": [
    {"mark": {"type": "text", "text": "k", "fontSize": 25, "fontStyle": "italic", "angle": 270, "dx": -39}},
    {"mark": {"type": "text", "text": ["+2", "z"], "lineHeight": 16, "fontSize": 17, "fontStyle": "italic", "angle": 270, "dx": -27, "dy": -10.5}},
    {"mark": {"type": "text", "text": "R", "fontSize": 25, "fontStyle": "italic", "angle": 270, "dx": -7}},
    {"mark": {"type": "text", "text": ["+", "max"], "lineHeight": 16, "fontSize": 17, "fontStyle": "italic", "angle": 270, "dx": 9, "dy": -10.5}}
   ]},
  {"data": {"values": [{}]},
   "encoding": {"x": {"datum": 21.5, "type": "quantitative", "scale": {"type": "log", "domain": [0.00001, 10], "nice": false}, "axis": null},
                "y": {"datum": 316.2, "type": "quantitative", "scale": {"type": "log", "domain": [10, 10000], "nice": false}, "axis": null}},
   "layer": [
    {"mark": {"type": "text", "text": "eLNS", "fontSize": 24, "angle": 90, "dx": -51}},
    {"mark": {"type": "text", "text": "MEAN", "fontSize": 17, "fontStyle": "italic", "angle": 90, "dx": 5, "dy": 5}}
   ]}
 ]
},
{
 "width": 326, "height": 236,
 "resolve": {"axis": {"x": "independent", "y": "independent"}},
 "layer": [
  {"data": {"name": "c"},
   "mark": {"type": "line", "clip": true, "strokeWidth": 1.1, "interpolate": "monotone"},
   "encoding": {
    "x": {"field": "k", "type": "quantitative", "scale": {"type": "log", "domain": [0.1, 100000], "nice": false},
      "axis": {"orient": "bottom", "title": null, "labelFont": "Liberation Serif", "values": [0.1,0.2,0.3,0.4,0.5,0.6,0.7,0.8,0.9,1,2,3,4,5,6,7,8,9,10,20,30,40,50,60,70,80,90,100,200,300,400,500,600,700,800,900,1000,2000,3000,4000,5000,6000,7000,8000,9000,10000,20000,30000,40000,50000,60000,70000,80000,90000,100000],
       "labelExpr": "datum.value == 1 ? '10⁰' : datum.value == 100 ? '10²' : datum.value == 10000 ? '10⁴' : ''",
       "tickSize": {"condition": {"test": "datum.value == 1 || datum.value == 100 || datum.value == 10000", "value": -5}, "value": -2.5},
       "labelPadding": 38, "labelBaseline": "alphabetic"}},
    "y": {"field": "E", "type": "quantitative", "scale": {"type": "log", "domain": [10000, 10000000], "nice": false},
      "axis": {"orient": "left", "title": null, "labelFont": "Liberation Serif", "values": [10000,20000,30000,40000,50000,60000,70000,80000,90000,100000,200000,300000,400000,500000,600000,700000,800000,900000,1000000,2000000,3000000,4000000,5000000,6000000,7000000,8000000,9000000,10000000],
       "labelExpr": "datum.value == 10000 ? '10⁴' : datum.value == 100000 ? '10⁵' : datum.value == 1000000 ? '10⁶' : datum.value == 10000000 ? '10⁷' : ''",
       "tickSize": {"condition": {"test": "datum.value == 10000 || datum.value == 100000 || datum.value == 1000000 || datum.value == 10000000", "value": -5}, "value": -2.5},
       "labelPadding": 13, "labelBaseline": "middle"}},
    "color": {"field": "Re", "type": "nominal", "scale": {"domain": ["1000","2000","5000","10000","20000"], "range": ["#0072BD","#D95319","#EDB120","#7E2F8E","#77AC30"]}, "legend": null}
   }},
  {"data": {"values": [{}]},
   "mark": {"type": "rule", "strokeDash": [6, 4], "color": "#555555", "strokeWidth": 1.2},
   "encoding": {
    "x": {"datum": 1.7952, "type": "quantitative", "scale": {"type": "log", "domain": [0.1, 100000], "nice": false},
      "axis": {"orient": "top", "title": null, "labels": false, "values": [0.1,0.2,0.3,0.4,0.5,0.6,0.7,0.8,0.9,1,2,3,4,5,6,7,8,9,10,20,30,40,50,60,70,80,90,100,200,300,400,500,600,700,800,900,1000,2000,3000,4000,5000,6000,7000,8000,9000,10000,20000,30000,40000,50000,60000,70000,80000,90000,100000],
       "tickSize": {"condition": {"test": "datum.value == 1 || datum.value == 100 || datum.value == 10000", "value": -5}, "value": -2.5}}},
    "y": {"datum": 10000, "type": "quantitative", "scale": {"type": "log", "domain": [10000, 10000000], "nice": false},
      "axis": {"orient": "right", "title": null, "labels": false, "values": [10000,20000,30000,40000,50000,60000,70000,80000,90000,100000,200000,300000,400000,500000,600000,700000,800000,900000,1000000,2000000,3000000,4000000,5000000,6000000,7000000,8000000,9000000,10000000],
       "tickSize": {"condition": {"test": "datum.value == 10000 || datum.value == 100000 || datum.value == 1000000 || datum.value == 10000000", "value": -5}, "value": -2.5}}},
    "y2": {"datum": 10000000}
   }},
  {"data": {"values": [{}]},
   "encoding": {"x": {"datum": 0.002612, "type": "quantitative", "scale": {"type": "log", "domain": [0.1, 100000], "nice": false}, "axis": null},
                "y": {"datum": 12620000, "type": "quantitative", "scale": {"type": "log", "domain": [10000, 10000000], "nice": false}, "axis": null}},
   "layer": [
    {"mark": {"type": "text", "text": "(", "fontSize": 22}},
    {"mark": {"type": "text", "text": "c", "fontSize": 22, "fontStyle": "italic", "dx": 7.5}},
    {"mark": {"type": "text", "text": ")", "fontSize": 22, "dx": 17.5}}
   ]},
  {"data": {"values": [{}]},
   "encoding": {"x": {"datum": 3.378, "type": "quantitative", "scale": {"type": "log", "domain": [0.1, 100000], "nice": false}, "axis": null},
                "y": {"datum": 3820000, "type": "quantitative", "scale": {"type": "log", "domain": [10000, 10000000], "nice": false}, "axis": null}},
   "layer": [
    {"mark": {"type": "text", "text": "λ", "fontSize": 22, "fontStyle": "italic"}},
    {"mark": {"type": "text", "text": "z", "fontSize": 15.5, "fontStyle": "italic", "dx": 11.5, "dy": 5}},
    {"mark": {"type": "text", "text": "/", "fontSize": 22, "dx": 18}},
    {"mark": {"type": "text", "text": "h", "fontSize": 22, "fontStyle": "italic", "dx": 24.2}},
    {"mark": {"type": "text", "text": "= 3.5", "fontSize": 22, "dx": 40.5}}
   ]},
  {"data": {"values": [{}]},
   "encoding": {"x": {"datum": 0.00892, "type": "quantitative", "scale": {"type": "log", "domain": [0.1, 100000], "nice": false}, "axis": null},
                "y": {"datum": 316228, "type": "quantitative", "scale": {"type": "log", "domain": [10000, 10000000], "nice": false}, "axis": null}},
   "layer": [
    {"mark": {"type": "text", "text": "(", "fontSize": 25, "angle": 270, "dx": -89.5}},
    {"mark": {"type": "text", "text": "k", "fontSize": 25, "fontStyle": "italic", "angle": 270, "dx": -81.2}},
    {"mark": {"type": "text", "text": "z", "fontSize": 18, "fontStyle": "italic", "angle": 270, "dx": -69.8, "dy": 5}},
    {"mark": {"type": "text", "text": "h", "fontSize": 25, "fontStyle": "italic", "angle": 270, "dx": -62.5}},
    {"mark": {"type": "text", "text": ")", "fontSize": 25, "angle": 270, "dx": -50}},
    {"mark": {"type": "text", "text": "2", "fontSize": 18, "angle": 270, "dx": -41.2, "dy": -10}},
    {"mark": {"type": "text", "text": "R", "fontSize": 25, "fontStyle": "italic", "angle": 270, "dx": -31.5}},
    {"mark": {"type": "text", "text": "max", "fontSize": 18, "fontStyle": "italic", "angle": 270, "dx": -15.5, "dy": 5}},
    {"mark": {"type": "text", "text": "(", "fontSize": 25, "angle": 270, "dx": 15.5}},
    {"mark": {"type": "text", "text": "U", "fontSize": 25, "fontStyle": "italic", "angle": 270, "dx": 24}},
    {"mark": {"type": "text", "text": "c", "fontSize": 18, "fontStyle": "italic", "angle": 270, "dx": 42.5, "dy": 5}},
    {"mark": {"type": "text", "text": "/", "fontSize": 25, "angle": 270, "dx": 51}},
    {"mark": {"type": "text", "text": "h", "fontSize": 25, "fontStyle": "italic", "angle": 270, "dx": 58}},
    {"mark": {"type": "text", "text": ")", "fontSize": 25, "angle": 270, "dx": 70.5}},
    {"mark": {"type": "text", "text": "2", "fontSize": 18, "angle": 270, "dx": 79.5, "dy": -10}}
   ]},
  {"data": {"values": [{}]},
   "encoding": {"x": {"datum": 100, "type": "quantitative", "scale": {"type": "log", "domain": [0.1, 100000], "nice": false}, "axis": null},
                "y": {"datum": 1549, "type": "quantitative", "scale": {"type": "log", "domain": [10000, 10000000], "nice": false}, "axis": null}},
   "layer": [
    {"mark": {"type": "text", "text": "k", "fontSize": 25, "fontStyle": "italic", "dx": -15.8}},
    {"mark": {"type": "text", "text": "z", "fontSize": 18, "fontStyle": "italic", "dx": -4.2, "dy": 5}},
    {"mark": {"type": "text", "text": "h", "fontSize": 25, "fontStyle": "italic", "dx": 3.2}}
   ]}
 ]
},
{
 "width": 324, "height": 236,
 "resolve": {"axis": {"x": "independent", "y": "independent"}},
 "layer": [
  {"data": {"name": "d"},
   "mark": {"type": "line", "clip": true, "strokeWidth": 1.1, "interpolate": "monotone"},
   "encoding": {
    "x": {"field": "k", "type": "quantitative", "scale": {"type": "log", "domain": [0.00001, 10], "nice": false},
      "axis": {"orient": "bottom", "title": null, "labelFont": "Liberation Serif", "values": [0.00001,0.00002,0.00003,0.00004,0.00005,0.00006,0.00007,0.00008,0.00009,0.0001,0.0002,0.0003,0.0004,0.0005,0.0006,0.0007,0.0008,0.0009,0.001,0.002,0.003,0.004,0.005,0.006,0.007,0.008,0.009,0.01,0.02,0.03,0.04,0.05,0.06,0.07,0.08,0.09,0.1,0.2,0.3,0.4,0.5,0.6,0.7,0.8,0.9,1,2,3,4,5,6,7,8,9,10],
       "labelExpr": "datum.value == 0.0001 ? '10⁻⁴' : datum.value == 0.01 ? '10⁻²' : datum.value == 1 ? '10⁰' : ''",
       "tickSize": {"condition": {"test": "datum.value == 0.0001 || datum.value == 0.01 || datum.value == 1", "value": -5}, "value": -2.5},
       "labelPadding": 38, "labelBaseline": "alphabetic"}},
    "y": {"field": "E", "type": "quantitative", "scale": {"type": "log", "domain": [10, 10000], "nice": false},
      "axis": {"orient": "left", "title": null, "labelFont": "Liberation Serif", "values": [10,20,30,40,50,60,70,80,90,100,200,300,400,500,600,700,800,900,1000,2000,3000,4000,5000,6000,7000,8000,9000,10000],
       "labelExpr": "datum.value == 10 ? '10¹' : datum.value == 100 ? '10²' : datum.value == 1000 ? '10³' : datum.value == 10000 ? '10⁴' : ''",
       "tickSize": {"condition": {"test": "datum.value == 10 || datum.value == 100 || datum.value == 1000 || datum.value == 10000", "value": -5}, "value": -2.5},
       "labelPadding": 13, "labelBaseline": "middle"}},
    "color": {"field": "Re", "type": "nominal", "scale": {"domain": ["1000","2000","5000","10000","20000"], "range": ["#0072BD","#D95319","#EDB120","#7E2F8E","#77AC30"]}, "legend": null}
   }},
  {"data": {"values": [{}]},
   "mark": {"type": "rule", "strokeDash": [6, 4], "color": "#555555", "strokeWidth": 1.2},
   "encoding": {
    "x": {"datum": 0.05027, "type": "quantitative", "scale": {"type": "log", "domain": [0.00001, 10], "nice": false},
      "axis": {"orient": "top", "title": null, "labels": false, "values": [0.00001,0.00002,0.00003,0.00004,0.00005,0.00006,0.00007,0.00008,0.00009,0.0001,0.0002,0.0003,0.0004,0.0005,0.0006,0.0007,0.0008,0.0009,0.001,0.002,0.003,0.004,0.005,0.006,0.007,0.008,0.009,0.01,0.02,0.03,0.04,0.05,0.06,0.07,0.08,0.09,0.1,0.2,0.3,0.4,0.5,0.6,0.7,0.8,0.9,1,2,3,4,5,6,7,8,9,10],
       "tickSize": {"condition": {"test": "datum.value == 0.0001 || datum.value == 0.01 || datum.value == 1", "value": -5}, "value": -2.5}}},
    "y": {"datum": 10, "type": "quantitative", "scale": {"type": "log", "domain": [10, 10000], "nice": false},
      "axis": {"orient": "right", "title": null, "labels": false, "values": [10,20,30,40,50,60,70,80,90,100,200,300,400,500,600,700,800,900,1000,2000,3000,4000,5000,6000,7000,8000,9000,10000],
       "tickSize": {"condition": {"test": "datum.value == 10 || datum.value == 100 || datum.value == 1000 || datum.value == 10000", "value": -5}, "value": -2.5}}},
    "y2": {"datum": 10000}
   }},
  {"data": {"values": [{}]},
   "encoding": {"x": {"datum": 2.867e-7, "type": "quantitative", "scale": {"type": "log", "domain": [0.00001, 10], "nice": false}, "axis": null},
                "y": {"datum": 12620, "type": "quantitative", "scale": {"type": "log", "domain": [10, 10000], "nice": false}, "axis": null}},
   "layer": [
    {"mark": {"type": "text", "text": "(", "fontSize": 22}},
    {"mark": {"type": "text", "text": "d", "fontSize": 22, "fontStyle": "italic", "dx": 7.5}},
    {"mark": {"type": "text", "text": ")", "fontSize": 22, "dx": 19}}
   ]},
  {"data": {"values": [{}]},
   "encoding": {"x": {"datum": 0.1171, "type": "quantitative", "scale": {"type": "log", "domain": [0.00001, 10], "nice": false}, "axis": null},
                "y": {"datum": 3715, "type": "quantitative", "scale": {"type": "log", "domain": [10, 10000], "nice": false}, "axis": null}},
   "layer": [
    {"mark": {"type": "text", "text": "λ", "fontSize": 22, "fontStyle": "italic"}},
    {"mark": {"type": "text", "text": ["+", "z"], "lineHeight": 15, "fontSize": 14, "fontStyle": "italic", "dx": 13.5, "dy": -9.5}},
    {"mark": {"type": "text", "text": "= 125", "fontSize": 22, "dx": 27}}
   ]},
  {"data": {"values": [{}]},
   "encoding": {"x": {"datum": 9.18e-7, "type": "quantitative", "scale": {"type": "log", "domain": [0.00001, 10], "nice": false}, "axis": null},
                "y": {"datum": 316.2, "type": "quantitative", "scale": {"type": "log", "domain": [10, 10000], "nice": false}, "axis": null}},
   "layer": [
    {"mark": {"type": "text", "text": "k", "fontSize": 25, "fontStyle": "italic", "angle": 270, "dx": -39}},
    {"mark": {"type": "text", "text": ["+2", "z"], "lineHeight": 16, "fontSize": 17, "fontStyle": "italic", "angle": 270, "dx": -27, "dy": -10.5}},
    {"mark": {"type": "text", "text": "R", "fontSize": 25, "fontStyle": "italic", "angle": 270, "dx": -7}},
    {"mark": {"type": "text", "text": ["+", "max"], "lineHeight": 16, "fontSize": 17, "fontStyle": "italic", "angle": 270, "dx": 9, "dy": -10.5}}
   ]},
  {"data": {"values": [{}]},
   "encoding": {"x": {"datum": 0.01, "type": "quantitative", "scale": {"type": "log", "domain": [0.00001, 10], "nice": false}, "axis": null},
                "y": {"datum": 1.549, "type": "quantitative", "scale": {"type": "log", "domain": [10, 10000], "nice": false}, "axis": null}},
   "layer": [
    {"mark": {"type": "text", "text": "k", "fontSize": 25, "fontStyle": "italic", "dx": -12}},
    {"mark": {"type": "text", "text": ["+", "z"], "lineHeight": 17, "fontSize": 16, "fontStyle": "italic", "dx": 2.5, "dy": -10.5}}
   ]},
  {"data": {"values": [{}]},
   "encoding": {"x": {"datum": 21.5, "type": "quantitative", "scale": {"type": "log", "domain": [0.00001, 10], "nice": false}, "axis": null},
                "y": {"datum": 316.2, "type": "quantitative", "scale": {"type": "log", "domain": [10, 10000], "nice": false}, "axis": null}},
   "layer": [
    {"mark": {"type": "text", "text": "eLNS", "fontSize": 24, "angle": 90, "dx": -47.4}},
    {"mark": {"type": "text", "text": "MOD", "fontSize": 17, "fontStyle": "italic", "angle": 90, "dx": 8.6, "dy": 5}}
   ]}
 ]
}
]
}
